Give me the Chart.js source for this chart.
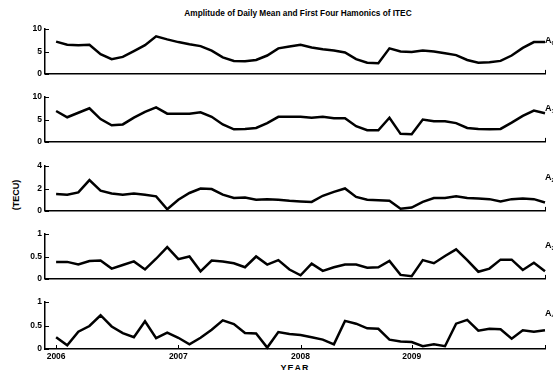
<!DOCTYPE html>
<html>
<head>
<meta charset="utf-8">
<script src="https://cdn.jsdelivr.net/npm/chart.js@4"></script>
<style>
  body { margin: 0; width: 553px; height: 370px; overflow: hidden; background: #fff; position: relative;
         font-family: "Liberation Sans Narrow", "Liberation Sans", Arial, sans-serif; font-weight: bold; color: #000; }
  canvas { position: absolute; left: 0; }
  .txt { position: absolute; white-space: nowrap; }
  .alab { font-size: 9px; }
  .alab sub { font-size: 6px; vertical-align: -2px; }
</style>
</head>
<body>
<div class="txt" id="title" style="left:0;width:596px;text-align:center;top:8px;font-size:9px;transform:scaleX(0.92);">Amplitude of Daily Mean and First Four Hamonics of ITEC</div>
<div class="txt" style="left:-9px;top:190px;width:50px;text-align:center;font-size:9px;transform:rotate(-90deg);">(TECU)</div>
<div class="txt" style="left:0;width:590px;text-align:center;top:363px;font-size:9px;letter-spacing:1px;">YEAR</div>

<script>
// amplitudes, one value per month slot (x = 1..45)
let a0 = [7.2, 6.5, 6.4, 6.5, 4.4, 3.3, 3.8, 5.1, 6.4, 8.4,
          7.7, 7.1, 6.6, 6.2, 5.2, 3.7, 2.9, 2.8, 3.1, 4.1,
          5.7, 6.1, 6.5, 5.9, 5.5, 5.2, 4.8, 3.3, 2.5, 2.4,
          5.7, 5.0, 4.9, 5.2, 5.0, 4.6, 4.2, 3.1, 2.5, 2.6,
          2.9, 4.1, 5.8, 7.1, 7.1];
let a1 = [6.9, 5.5, 6.5, 7.5, 5.1, 3.7, 3.9, 5.4, 6.7, 7.7,
          6.3, 6.3, 6.3, 6.6, 5.6, 3.9, 2.8, 2.9, 3.1, 4.2,
          5.6, 5.6, 5.6, 5.4, 5.6, 5.3, 5.3, 3.5, 2.6, 2.6,
          5.4, 1.8, 1.7, 5.0, 4.6, 4.6, 4.2, 3.1, 2.9, 2.8,
          2.9, 4.3, 5.8, 7.0, 6.4];
let a2 = [1.5, 1.45, 1.65, 2.75, 1.8, 1.55, 1.45, 1.55, 1.45, 1.3,
          0.15, 1.0, 1.6, 2.0, 1.95, 1.45, 1.15, 1.2, 1.0, 1.05,
          1.0, 0.9, 0.85, 0.8, 1.35, 1.7, 2.0, 1.25, 1.0, 0.95,
          0.9, 0.2, 0.3, 0.8, 1.15, 1.15, 1.3, 1.15, 1.1, 1.05,
          0.85, 1.05, 1.1, 1.05, 0.75];
let a3 = [0.38, 0.38, 0.32, 0.40, 0.41, 0.23, 0.31, 0.39, 0.21, 0.45,
          0.71, 0.44, 0.50, 0.17, 0.41, 0.39, 0.35, 0.26, 0.50, 0.32,
          0.42, 0.21, 0.08, 0.34, 0.18, 0.26, 0.32, 0.32, 0.25, 0.26,
          0.40, 0.09, 0.06, 0.42, 0.35, 0.51, 0.66, 0.42, 0.16, 0.23,
          0.43, 0.43, 0.20, 0.36, 0.17];
let a4 = [0.25, 0.08, 0.37, 0.49, 0.72, 0.48, 0.34, 0.25, 0.59, 0.23,
          0.35, 0.24, 0.10, 0.24, 0.41, 0.61, 0.53, 0.34, 0.33, 0.03,
          0.36, 0.32, 0.30, 0.25, 0.20, 0.10, 0.60, 0.54, 0.44, 0.43,
          0.20, 0.16, 0.15, 0.06, 0.10, 0.06, 0.54, 0.62, 0.39, 0.43,
          0.42, 0.22, 0.40, 0.37, 0.40];

let series = [a0, a1, a2, a3, a4];
let yMax = [10, 10, 4, 1, 1];
let yStep = [5, 5, 2, 0.5, 0.5];
let yearTicks = [1, 12, 23, 33, 45];
let yearLabels = ["2006", "2007", "2008", "2009", ""];

let tops = [29, 97, 166, 234, 302];
let plotH = 47;
let font = { family: '"Liberation Sans Narrow", "Liberation Sans", Arial, sans-serif', size: 8.5, weight: "bold" };

// matlab style ticks pointing into the plot
let innerTicks = {
    id: "innerTicks",
    afterDraw(chart) {
        let ctx = chart.ctx, a = chart.chartArea, x = chart.scales.x, y = chart.scales.y;
        ctx.save();
        ctx.strokeStyle = "#000";
        ctx.lineWidth = 1;
        x.ticks.forEach(t => {
            let px = Math.round(x.getPixelForValue(t.value)) + 0.5;
            ctx.beginPath(); ctx.moveTo(px, a.bottom); ctx.lineTo(px, a.bottom - 4); ctx.stroke();
        });
        y.ticks.forEach(t => {
            let py = Math.round(y.getPixelForValue(t.value)) + 0.5;
            ctx.beginPath(); ctx.moveTo(a.left, py); ctx.lineTo(a.left + 4, py); ctx.stroke();
        });
        ctx.restore();
    }
};

series.forEach((vals, k) => {
    let last = k == series.length - 1;
    let xH = last ? 21 : 6;
    let cv = document.createElement("canvas");
    cv.width = 553;
    cv.height = 8 + plotH + xH;
    cv.style.top = (tops[k] - 8) + "px";
    document.body.appendChild(cv);

    let lab = document.createElement("div");
    lab.className = "txt alab";
    lab.style.left = "545px";
    lab.style.top = (tops[k] + 6) + "px";
    lab.innerHTML = "A<sub>" + k + "</sub>";
    document.body.appendChild(lab);

    new Chart(cv.getContext("2d"), {
        type: "line",
        data: {
            datasets: [{
                data: vals.map((v, i) => ({ x: i + 1, y: v })),
                borderColor: "#000",
                borderWidth: 2.5,
                pointRadius: 0,
                tension: 0,
                clip: 5
            }]
        },
        options: {
            responsive: false,
            animation: false,
            devicePixelRatio: 1,
            layout: { padding: { left: 0, right: 8, top: 8, bottom: 0 } },
            plugins: { legend: { display: false }, tooltip: { enabled: false } },
            scales: {
                x: {
                    type: "linear", min: 0, max: 45,
                    grid: { display: false, drawTicks: false },
                    border: { display: true, color: "#000", width: 1.5 },
                    afterFit: s => { s.height = xH; },
                    afterBuildTicks: s => {
                        if (last) s.ticks = yearTicks.map(v => ({ value: v }));
                    },
                    ticks: {
                        display: last,
                        stepSize: 5,
                        autoSkip: false,
                        maxRotation: 0,
                        padding: 3,
                        color: "#000",
                        font: font,
                        callback: v => yearLabels[yearTicks.indexOf(v)]
                    }
                },
                y: {
                    min: 0, max: yMax[k],
                    grid: { display: false, drawTicks: false },
                    border: { display: true, color: "#000", width: 1.5 },
                    afterFit: s => { s.width = 45; },
                    ticks: {
                        stepSize: yStep[k], padding: 3, color: "#000", font: font,
                        callback: v => String(v)
                    }
                }
            }
        },
        plugins: [innerTicks]
    });
});
</script>
</body>
</html>
